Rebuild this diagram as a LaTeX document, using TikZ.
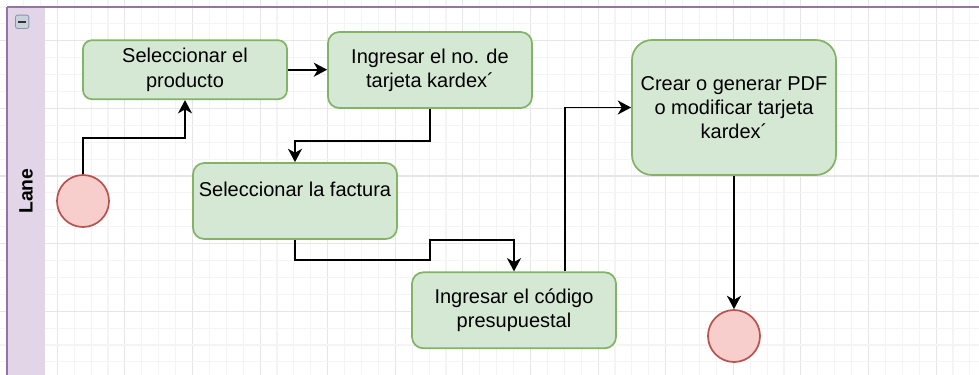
\documentclass[tikz,border=0pt]{standalone}
\usepackage{fontspec}
\setmainfont{Liberation Sans}
\usetikzlibrary{arrows.meta}
\definecolor{boxfill}{HTML}{D5E8D4}
\definecolor{boxline}{HTML}{82B366}
\definecolor{endfill}{HTML}{F8CECC}
\definecolor{endline}{HTML}{B85450}
\definecolor{lanefill}{HTML}{E1D5E7}
\definecolor{laneline}{HTML}{9673A6}
\definecolor{gridmajor}{HTML}{E6E6E6}
\definecolor{gridminor}{HTML}{F4F4F4}
\definecolor{iconfill}{HTML}{C9D2DC}
\definecolor{iconline}{HTML}{8796A8}
\begin{document}
\begin{tikzpicture}[x=0.75pt,y=-0.75pt,
  task/.style={draw=boxline, fill=boxfill, line width=1.3pt, align=center,
    inner sep=0pt, minimum width=153pt, font=\fontsize{15}{18.2}\selectfont},
  evt/.style={circle, draw=endline, fill=endfill, line width=1.3pt,
    minimum size=39pt, inner sep=0pt},
  conn/.style={draw=black, line width=1.4pt,
    -{Stealth[length=10pt,width=10.5pt,inset=3pt]}}]
\useasboundingbox (0,0) rectangle (979,375);
\begin{scope}
\clip (0,0) rectangle (979,375);
% grid
\foreach \k in {-3,...,55}{
  \pgfmathtruncatemacro\m{mod(\k+400,4)}
  \pgfmathsetmacro\xx{57.3+16.9*\k}
  \ifnum\m=0 \draw[gridmajor,line width=0.8pt] (\xx,0) -- (\xx,375);
  \else \draw[gridminor,line width=0.8pt] (\xx,0) -- (\xx,375); \fi
}
\foreach \k in {-3,...,21}{
  \pgfmathtruncatemacro\m{mod(\k+400,4)}
  \pgfmathsetmacro\yy{40.8+16.9*\k}
  \ifnum\m=0 \draw[gridmajor,line width=0.8pt] (0,\yy) -- (979,\yy);
  \else \draw[gridminor,line width=0.8pt] (0,\yy) -- (979,\yy); \fi
}
% lane
\fill[lanefill] (7,7) rectangle (45,380);
\draw[laneline, line width=1pt] (990,7) -- (7,7);
\draw[laneline, line width=1.4pt] (7,7) -- (7,380);
\end{scope}
\node[rotate=90, font=\fontsize{14.5}{17}\selectfont\bfseries] (lanelabel) at (26,191) {Lane};
\node[draw=iconline, fill=iconfill, rounded corners=1.5pt, line width=0.6pt,
  minimum size=10pt, inner sep=0pt] (icon) at (22.2,21.8) {};
\draw[black!80, line width=1.2pt] ([xshift=-2.8pt]icon.center) -- ([xshift=2.8pt]icon.center);
% tasks
\node[task, minimum height=44.25pt, rounded corners=6.7pt] (b1) at (185,69.7)
  {Seleccionar el\\producto};
\node[task, minimum height=57pt, rounded corners=8.5pt] (b2) at (430,70)
  {Ingresar el no. de\\tarjeta kardex´};
\node[task, minimum height=57pt, rounded corners=8.5pt] (b3) at (295,201)
  {Seleccionar la factura\\\mbox{}};
\node[task, minimum height=57pt, rounded corners=8.5pt] (b4) at (514,310.3)
  {Ingresar el código\\presupuestal};
\node[task, minimum height=101.25pt, rounded corners=15pt] (b5) at (734,107.5)
  {Crear o generar PDF\\o modificar tarjeta\\kardex´};
% events
\node[evt] (start) at (83,201) {};
\node[evt] (end) at (734,336) {};
% connectors
\draw[conn] (start.north) -- (start.north |- 0,138) -| (b1.south);
\draw[conn] (b1.east) -- (b1.east -| b2.west);
\draw[conn] (b2.south) -- (b2.south |- 0,141) -| (b3.north);
\draw[conn] (b3.south) -- (b3.south |- 0,260) -- (430,260) -- (430,240) -| (b4.north);
\draw[conn] (b4.north -| 565,0) |- (b5.west);
\draw[conn] (b5.south) -- (end.north);
\end{tikzpicture}
\end{document}
